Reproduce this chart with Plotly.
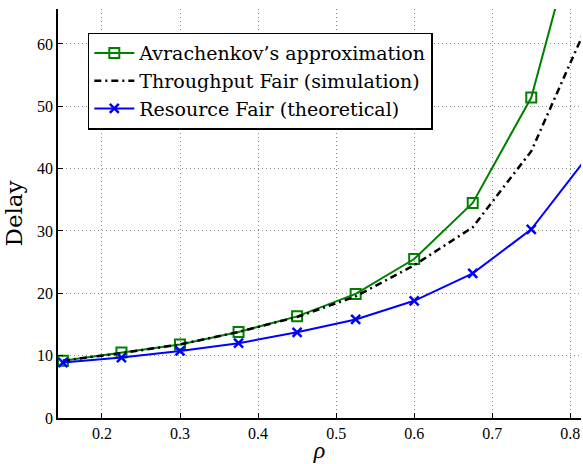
import plotly.graph_objects as go

rho = [0.15, 0.225, 0.3, 0.375, 0.45, 0.525, 0.6, 0.675, 0.75, 0.825]
avrachenkov = [9.2, 10.5, 11.8, 13.8, 16.3, 19.9, 25.5, 34.5, 51.4, 86.3]
throughput_fair = [9.2, 10.4, 11.8, 13.8, 16.2, 19.5, 24.5, 30.6, 42.8, 64.0]
resource_fair = [8.9, 9.7, 10.75, 12.0, 13.75, 15.8, 18.8, 23.2, 30.25, 42.4]

names = ["Avrachenkov\u2019s approximation", "Throughput Fair (simulation)", "Resource Fair (theoretical)"]

serif = "Liberation Serif, Times New Roman, serif"
wide_serif = "DejaVu Serif, serif"

fig = go.Figure()
fig.add_trace(go.Scatter(
    x=rho, y=avrachenkov, name=names[0], mode="lines+markers",
    line=dict(color="#008000", width=2),
    marker=dict(symbol="square-open", size=10, color="#008000", line=dict(width=2)),
))
fig.add_trace(go.Scatter(
    x=rho, y=throughput_fair, name=names[1], mode="lines",
    line=dict(color="black", width=2.5, dash="7px,4px,2px,4px"),
))
fig.add_trace(go.Scatter(
    x=rho, y=resource_fair, name=names[2], mode="lines+markers",
    line=dict(color="#0000ff", width=2),
    marker=dict(symbol="x-thin", size=9, color="#0000ff", line=dict(width=2.5, color="#0000ff")),
))

axis_common = dict(
    showgrid=True, gridcolor="#8a8a8a", griddash="1px,3px", gridwidth=1,
    showline=True, linecolor="black", linewidth=1.5,
    ticks="inside", ticklen=5, tickcolor="black", tickwidth=1,
    tickfont=dict(family=serif, size=16, color="black"),
    zeroline=False, mirror=False,
)

fig.update_layout(
    width=583, height=464,
    margin=dict(l=58, r=2, t=9, b=46),
    paper_bgcolor="white", plot_bgcolor="white",
    showlegend=True,
    legend=dict(
        x=0.057, y=0.942, xanchor="left", yanchor="top",
        bgcolor="white", bordercolor="black", borderwidth=1.5,
        font=dict(family=wide_serif, size=19, color="black"),
        itemwidth=40, tracegroupgap=0,
    ),
    xaxis=dict(range=[0.1437, 0.8137], tick0=0.2, dtick=0.1,
               title=dict(text="<i>\u03c1</i>", font=dict(family=serif, size=24, color="black"), standoff=0),
               **axis_common),
    yaxis=dict(range=[0, 65.6], tick0=0, dtick=10,
               title=dict(text="Delay", font=dict(family=wide_serif, size=23, color="black"), standoff=8),
               **axis_common),
)

fig.write_html("out.html", config={"displayModeBar": False},
               post_script="document.body.style.margin='0';document.body.style.padding='0';")
